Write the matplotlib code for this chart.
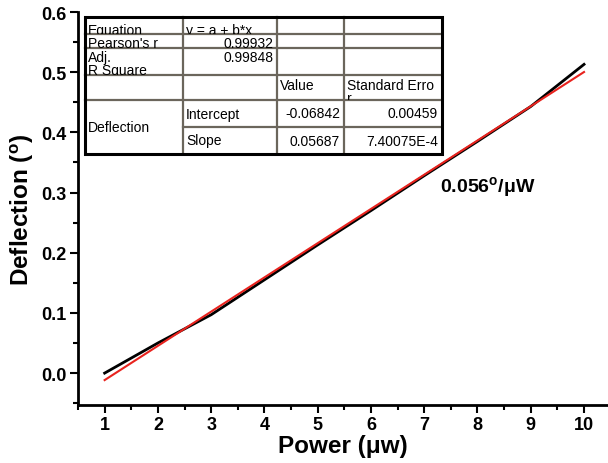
import matplotlib
matplotlib.use("Agg")
import matplotlib.pyplot as plt
from matplotlib.patches import Rectangle
from matplotlib.ticker import MultipleLocator, FormatStrFormatter
from matplotlib.transforms import Bbox, TransformedBbox

plt.rcParams['font.family'] = ['Liberation Sans', 'DejaVu Sans']
plt.rcParams['mathtext.fontset'] = 'custom'
plt.rcParams['mathtext.rm'] = 'Liberation Sans:bold'

# measured deflection
power = [1, 2, 3, 4, 5, 6, 7, 8, 9, 10]
deflection = [0.000, 0.050, 0.097, 0.155, 0.213, 0.270, 0.328, 0.385, 0.443, 0.513]

# linear fit line (end points)
fit_x = [1, 10]
fit_y = [-0.0116, 0.5003]

# fit table contents
table_rows = [
    ["Equation", "y = a + b*x", "", ""],
    ["Pearson's r", "0.99932", "", ""],
    ["Adj.\nR Square", "0.99848", "", ""],
    ["", "", "Value", "Standard Erro\nr"],
    ["Deflection", "Intercept", "-0.06842", "0.00459"],
    ["", "Slope", "0.05687", "7.40075E-4"],
]

W, H = 608, 464
fig = plt.figure(figsize=(W / 100, H / 100), dpi=100)
ax = fig.add_axes([78 / W, (H - 406) / H, 1 - 78 / W, (406 - 13) / H])

ax.plot(power, deflection, color='black', lw=2.0)
ax.plot(fit_x, fit_y, color='#e8231e', lw=1.5)

ax.set_xlim(0.5, 10.45)
ax.set_ylim(-0.053, 0.6)
ax.xaxis.set_major_locator(MultipleLocator(1))
ax.xaxis.set_minor_locator(MultipleLocator(0.5))
ax.yaxis.set_major_locator(MultipleLocator(0.1))
ax.yaxis.set_minor_locator(MultipleLocator(0.05))
ax.yaxis.set_major_formatter(FormatStrFormatter('%.1f'))
ax.spines['top'].set_visible(False)
ax.spines['right'].set_visible(False)
ax.spines['left'].set_linewidth(2)
ax.spines['bottom'].set_linewidth(2)
ax.tick_params(which='major', direction='out', length=6, width=1.5, labelsize=13, pad=2)
ax.tick_params(which='minor', direction='out', length=3.5, width=1.5)
for lab in ax.get_xticklabels() + ax.get_yticklabels():
    lab.set_fontweight('bold')

ax.set_xlabel('Power (μw)', fontsize=17.5, fontweight='bold', labelpad=1)
ax.set_ylabel(r'Deflection ($\mathregular{^o}$)', fontsize=17.5, fontweight='bold', labelpad=4)

ax.text(7.3, 0.311, r'0.056$\mathregular{^o}$/μW', fontsize=14, fontweight='bold',
        va='center', ha='left')

# table overlay in pixel coordinates (y measured from top)
tab = fig.add_axes([0, 0, 1, 1])
tab.set_xlim(0, W)
tab.set_ylim(0, H)
tab.axis('off')


def fy(y):
    return H - y


cols = [85, 183, 277, 344, 442]
rows = [18, 35, 49, 76, 101, 128, 155]
grey = '#6b665c'

tab.add_patch(Rectangle((cols[0], fy(rows[-1])), cols[-1] - cols[0], rows[-1] - rows[0],
                        facecolor='white', edgecolor='none', zorder=1))
for c in cols[1:-1]:
    tab.plot([c, c], [fy(rows[0]), fy(rows[-1])], color=grey, lw=1.6, zorder=2)
for r in rows[1:-1]:
    x0 = cols[1] if r == 128 else cols[0]
    tab.plot([x0, cols[-1]], [fy(r), fy(r)], color=grey, lw=1.6, zorder=2)
tab.add_patch(Rectangle((cols[0], fy(rows[-1])), cols[-1] - cols[0], rows[-1] - rows[0],
                        facecolor='none', edgecolor='black', lw=2.2, zorder=3))

right_cells = {(1, 1), (2, 1), (4, 2), (4, 3), (5, 2), (5, 3)}
for i, row in enumerate(table_rows):
    for j, txt in enumerate(row):
        if not txt:
            continue
        y0, y1 = rows[i], rows[i + 1]
        x0, x1 = cols[j], cols[j + 1]
        if i == 4 and j == 0:
            y1 = rows[6]
            yt, va = (y0 + y1) / 2, 'center'
        elif i == 0:
            yt, va = y1 - 0.5, 'baseline'
        elif i == 1:
            yt, va = y1 - 1.5, 'baseline'
        elif i == 2:
            yt, va = y0 + 2, 'top'
        elif i == 3:
            yt, va = y0 + 3, 'top'
        else:
            yt, va = (y0 + y1) / 2, 'center'
        if (i, j) in right_cells:
            xt, ha = x1 - 4, 'right'
        else:
            xt, ha = x0 + 3, 'left'
        t = tab.text(xt, fy(yt), txt, fontsize=10, ha=ha, va=va, zorder=2.5,
                     linespacing=0.95)
        t.set_clip_on(True)
        t.set_clip_box(TransformedBbox(Bbox([[x0, fy(y1)], [x1, fy(y0)]]), tab.transData))

fig.savefig('out.png', dpi=100)
